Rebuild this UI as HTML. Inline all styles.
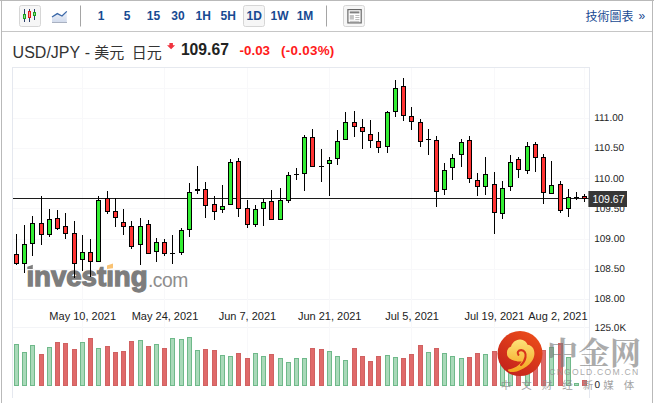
<!DOCTYPE html>
<html><head><meta charset="utf-8"><title>USD/JPY</title>
<style>html,body{margin:0;padding:0;background:#fff;}body{width:654px;height:403px;position:relative;overflow:hidden;font-family:"Liberation Sans",sans-serif;}</style></head>
<body>
<svg width="654" height="403" viewBox="0 0 654 403" style="position:absolute;left:0;top:0;font-family:'Liberation Sans',sans-serif">
<defs><linearGradient id="lg" x1="0" y1="0" x2="0" y2="1"><stop offset="0" stop-color="#eef2f9"/><stop offset="1" stop-color="#d3dced"/></linearGradient><linearGradient id="rg" x1="0.8" y1="0.1" x2="0.25" y2="0.95"><stop offset="0" stop-color="#e94a1a"/><stop offset="1" stop-color="#c4221c"/></linearGradient><linearGradient id="gg" x1="0.5" y1="0" x2="0.5" y2="1"><stop offset="0" stop-color="#fde27a"/><stop offset="1" stop-color="#f4a41c"/></linearGradient></defs>
<rect x="0" y="0" width="654" height="1" fill="#b9b9b9"/>
<rect x="1" y="0" width="1" height="403" fill="#b9b9b9"/>
<rect x="652" y="0" width="1" height="403" fill="#b9b9b9"/>
<rect x="2" y="31" width="650" height="1" fill="#c6c6c6"/>
<rect x="19.5" y="5.5" width="21" height="21" rx="2" fill="#f6f6f6" stroke="#d6d6d6"/>
<rect x="243.5" y="5.5" width="21" height="21" rx="2" fill="#f6f6f6" stroke="#d6d6d6"/>
<rect x="343.5" y="5.5" width="21" height="21" rx="2" fill="#f6f6f6" stroke="#d6d6d6"/>
<g shape-rendering="crispEdges">
<rect x="24" y="9" width="1" height="13" fill="#2b3f6b"/>
<rect x="23" y="14" width="3" height="5" fill="#1ea01e"/>
<rect x="29" y="9" width="1" height="13" fill="#2b3f6b"/>
<rect x="28" y="11" width="3" height="7" fill="#e01b1b"/>
<rect x="34" y="9" width="1" height="11" fill="#2b3f6b"/>
<rect x="33" y="12" width="3" height="4" fill="#1ea01e"/>
</g>
<rect x="24" y="15" width="1" height="3" fill="#8fe08f"/>
<rect x="29" y="12" width="1" height="5" fill="#ff9a9a"/>
<rect x="34" y="13" width="1" height="2" fill="#8fe08f"/>
<path d="M52 17 L57.3 13.6 L62 16 L66.8 11.4 L66.8 22 L52 22 Z" fill="url(#lg)"/>
<path d="M52 17 L57.3 13.6 L62 16 L66.8 11.4" fill="none" stroke="#3b68a8" stroke-width="1.3"/>
<rect x="52" y="22" width="15" height="1" fill="#a9b1c1"/>
<rect x="80" y="5.5" width="1" height="21" fill="#a5a5a5"/>
<rect x="326" y="5.5" width="1" height="21" fill="#a5a5a5"/>
<text x="101" y="20.3" font-size="12" font-weight="bold" fill="#174a92" text-anchor="middle">1</text>
<text x="127" y="20.3" font-size="12" font-weight="bold" fill="#174a92" text-anchor="middle">5</text>
<text x="153.5" y="20.3" font-size="12" font-weight="bold" fill="#174a92" text-anchor="middle">15</text>
<text x="178" y="20.3" font-size="12" font-weight="bold" fill="#174a92" text-anchor="middle">30</text>
<text x="203.2" y="20.3" font-size="12" font-weight="bold" fill="#174a92" text-anchor="middle">1H</text>
<text x="228.2" y="20.3" font-size="12" font-weight="bold" fill="#174a92" text-anchor="middle">5H</text>
<text x="254.2" y="20.3" font-size="12" font-weight="bold" fill="#174a92" text-anchor="middle">1D</text>
<text x="279.5" y="20.3" font-size="12" font-weight="bold" fill="#174a92" text-anchor="middle">1W</text>
<text x="305" y="20.3" font-size="12" font-weight="bold" fill="#174a92" text-anchor="middle">1M</text>
<rect x="347.9" y="9.6" width="13.3" height="13.3" fill="#fff" stroke="#686868" stroke-width="1.2"/>
<rect x="349.7" y="11.4" width="9.7" height="2" fill="#808080"/>
<rect x="349.7" y="15" width="4.2" height="4.6" fill="#c4c4c4"/>
<rect x="355.3" y="15.1" width="4.1" height="0.7" fill="#a0a0a0"/>
<rect x="355.3" y="17.2" width="4.1" height="0.7" fill="#a0a0a0"/>
<rect x="355.3" y="19.2" width="4.1" height="0.7" fill="#a0a0a0"/>
<rect x="349.7" y="20.9" width="9.7" height="0.7" fill="#a0a0a0"/>
<text x="585.5" y="21" font-size="12" fill="#174a92" style="font-family:'Liberation Sans','Noto Sans CJK TC',sans-serif">技術圖表</text>
<text x="638.4" y="19.9" font-size="12" fill="#174a92">»</text>
<text x="12.6" y="57.5" font-size="16" fill="#333">USD/JPY</text>
<text x="84.8" y="57.5" font-size="16" fill="#333">-</text>
<text x="94.2" y="57.5" font-size="15" fill="#333" style="font-family:'Liberation Sans','Noto Sans CJK TC',sans-serif">美元</text>
<text x="131.7" y="57.5" font-size="15" fill="#333" style="font-family:'Liberation Sans','Noto Sans CJK TC',sans-serif">日元</text>
<path d="M169.4 42.9h3.5v2.3h2.2L171.1 49.3 167 45.2h2.4z" fill="#f0323e"/>
<text x="180.9" y="54.8" font-size="15.7" font-weight="bold" fill="#222">109.67</text>
<text x="239.5" y="55" font-size="13.4" font-weight="bold" fill="#ff1a1a">-0.03</text>
<text x="281" y="55" font-size="13.4" font-weight="bold" fill="#ff1a1a" letter-spacing="0.28">(-0.03%)</text>
<g shape-rendering="crispEdges">
<rect x="13" y="88" width="576" height="1" fill="#f8f8fa"/>
<rect x="13" y="118" width="576" height="1" fill="#f8f8fa"/>
<rect x="13" y="148" width="576" height="1" fill="#f8f8fa"/>
<rect x="13" y="178" width="576" height="1" fill="#f8f8fa"/>
<rect x="13" y="208" width="576" height="1" fill="#f8f8fa"/>
<rect x="13" y="239" width="576" height="1" fill="#f8f8fa"/>
<rect x="13" y="269" width="576" height="1" fill="#f8f8fa"/>
<rect x="13" y="299" width="576" height="1" fill="#f3f4f7"/>
<rect x="13" y="327" width="576" height="1" fill="#f3f4f7"/>
<rect x="82" y="68" width="1" height="318" fill="#f8f8fa"/>
<rect x="164" y="68" width="1" height="318" fill="#f8f8fa"/>
<rect x="247" y="68" width="1" height="318" fill="#f8f8fa"/>
<rect x="329" y="68" width="1" height="318" fill="#f8f8fa"/>
<rect x="411" y="68" width="1" height="318" fill="#f8f8fa"/>
<rect x="494" y="68" width="1" height="318" fill="#f8f8fa"/>
<rect x="584" y="68" width="1" height="318" fill="#f9f9fb"/>
<rect x="12" y="67" width="578" height="1" fill="#e6e9ef"/>
<rect x="12" y="67" width="1" height="331" fill="#e5e8ef"/>
<rect x="589" y="67" width="1" height="331" fill="#e5e8ef"/>
</g>
<text x="26.4" y="286.1" font-size="27.6" font-weight="bold" fill="#7d7d7d" stroke="#7d7d7d" stroke-width="1.3" stroke-linejoin="miter" letter-spacing="0" >ınvestıng</text>
<text x="147.9" y="286.9" font-size="19.3" fill="#8e8e8e" letter-spacing="-0.45">.com</text>
<path d="M27.3 266.8 L32.8 264.8 L32.8 268.9 L27.3 268.9 Z" fill="#7d7d7d"/>
<path d="M107 265.5 L113 263.6 L113 268.3 L107 269 Z" fill="#f9c273"/>
<rect x="13" y="198" width="576" height="1" fill="#1c1c1c" shape-rendering="crispEdges"/>
<g shape-rendering="crispEdges">
<rect x="14" y="344" width="5" height="42" fill="#6fb98a"/>
<rect x="15" y="345" width="3" height="40" fill="#a9d9b9"/>
<rect x="22" y="352" width="5" height="34" fill="#6fb98a"/>
<rect x="23" y="353" width="3" height="32" fill="#a9d9b9"/>
<rect x="30" y="345" width="5" height="41" fill="#6fb98a"/>
<rect x="31" y="346" width="3" height="39" fill="#a9d9b9"/>
<rect x="39" y="354" width="5" height="32" fill="#d06262"/>
<rect x="40" y="355" width="3" height="30" fill="#e06a6a"/>
<rect x="47" y="347" width="5" height="39" fill="#6fb98a"/>
<rect x="48" y="348" width="3" height="37" fill="#a9d9b9"/>
<rect x="55" y="342" width="5" height="44" fill="#d06262"/>
<rect x="56" y="343" width="3" height="42" fill="#e06a6a"/>
<rect x="63" y="343" width="5" height="43" fill="#d06262"/>
<rect x="64" y="344" width="3" height="41" fill="#e06a6a"/>
<rect x="72" y="349" width="5" height="37" fill="#d06262"/>
<rect x="73" y="350" width="3" height="35" fill="#e06a6a"/>
<rect x="80" y="342" width="5" height="44" fill="#6fb98a"/>
<rect x="81" y="343" width="3" height="42" fill="#a9d9b9"/>
<rect x="88" y="338" width="5" height="48" fill="#d06262"/>
<rect x="89" y="339" width="3" height="46" fill="#e06a6a"/>
<rect x="96" y="348" width="5" height="38" fill="#6fb98a"/>
<rect x="97" y="349" width="3" height="36" fill="#a9d9b9"/>
<rect x="105" y="346" width="5" height="40" fill="#d06262"/>
<rect x="106" y="347" width="3" height="38" fill="#e06a6a"/>
<rect x="113" y="352" width="5" height="34" fill="#d06262"/>
<rect x="114" y="353" width="3" height="32" fill="#e06a6a"/>
<rect x="121" y="351" width="5" height="35" fill="#d06262"/>
<rect x="122" y="352" width="3" height="33" fill="#e06a6a"/>
<rect x="129" y="341" width="5" height="45" fill="#d06262"/>
<rect x="130" y="342" width="3" height="43" fill="#e06a6a"/>
<rect x="138" y="340" width="5" height="46" fill="#6fb98a"/>
<rect x="139" y="341" width="3" height="44" fill="#a9d9b9"/>
<rect x="146" y="346" width="5" height="40" fill="#d06262"/>
<rect x="147" y="347" width="3" height="38" fill="#e06a6a"/>
<rect x="154" y="344" width="5" height="42" fill="#6fb98a"/>
<rect x="155" y="345" width="3" height="40" fill="#a9d9b9"/>
<rect x="162" y="348" width="5" height="38" fill="#d06262"/>
<rect x="163" y="349" width="3" height="36" fill="#e06a6a"/>
<rect x="170" y="338" width="5" height="48" fill="#6fb98a"/>
<rect x="171" y="339" width="3" height="46" fill="#a9d9b9"/>
<rect x="179" y="339" width="5" height="47" fill="#6fb98a"/>
<rect x="180" y="340" width="3" height="45" fill="#a9d9b9"/>
<rect x="187" y="337" width="5" height="49" fill="#6fb98a"/>
<rect x="188" y="338" width="3" height="47" fill="#a9d9b9"/>
<rect x="195" y="350" width="5" height="36" fill="#6fb98a"/>
<rect x="196" y="351" width="3" height="34" fill="#a9d9b9"/>
<rect x="203" y="349" width="5" height="37" fill="#d06262"/>
<rect x="204" y="350" width="3" height="35" fill="#e06a6a"/>
<rect x="212" y="350" width="5" height="36" fill="#d06262"/>
<rect x="213" y="351" width="3" height="34" fill="#e06a6a"/>
<rect x="220" y="355" width="5" height="31" fill="#6fb98a"/>
<rect x="221" y="356" width="3" height="29" fill="#a9d9b9"/>
<rect x="228" y="356" width="5" height="30" fill="#6fb98a"/>
<rect x="229" y="357" width="3" height="28" fill="#a9d9b9"/>
<rect x="236" y="353" width="5" height="33" fill="#d06262"/>
<rect x="237" y="354" width="3" height="31" fill="#e06a6a"/>
<rect x="245" y="358" width="5" height="28" fill="#d06262"/>
<rect x="246" y="359" width="3" height="26" fill="#e06a6a"/>
<rect x="253" y="353" width="5" height="33" fill="#6fb98a"/>
<rect x="254" y="354" width="3" height="31" fill="#a9d9b9"/>
<rect x="261" y="356" width="5" height="30" fill="#6fb98a"/>
<rect x="262" y="357" width="3" height="28" fill="#a9d9b9"/>
<rect x="269" y="354" width="5" height="32" fill="#d06262"/>
<rect x="270" y="355" width="3" height="30" fill="#e06a6a"/>
<rect x="278" y="358" width="5" height="28" fill="#6fb98a"/>
<rect x="279" y="359" width="3" height="26" fill="#a9d9b9"/>
<rect x="286" y="362" width="5" height="24" fill="#6fb98a"/>
<rect x="287" y="363" width="3" height="22" fill="#a9d9b9"/>
<rect x="294" y="358" width="5" height="28" fill="#6fb98a"/>
<rect x="295" y="359" width="3" height="26" fill="#a9d9b9"/>
<rect x="302" y="358" width="5" height="28" fill="#6fb98a"/>
<rect x="303" y="359" width="3" height="26" fill="#a9d9b9"/>
<rect x="310" y="348" width="5" height="38" fill="#d06262"/>
<rect x="311" y="349" width="3" height="36" fill="#e06a6a"/>
<rect x="319" y="349" width="5" height="37" fill="#d06262"/>
<rect x="320" y="350" width="3" height="35" fill="#e06a6a"/>
<rect x="327" y="351" width="5" height="35" fill="#6fb98a"/>
<rect x="328" y="352" width="3" height="33" fill="#a9d9b9"/>
<rect x="335" y="356" width="5" height="30" fill="#6fb98a"/>
<rect x="336" y="357" width="3" height="28" fill="#a9d9b9"/>
<rect x="343" y="360" width="5" height="26" fill="#6fb98a"/>
<rect x="344" y="361" width="3" height="24" fill="#a9d9b9"/>
<rect x="352" y="348" width="5" height="38" fill="#d06262"/>
<rect x="353" y="349" width="3" height="36" fill="#e06a6a"/>
<rect x="360" y="356" width="5" height="30" fill="#d06262"/>
<rect x="361" y="357" width="3" height="28" fill="#e06a6a"/>
<rect x="368" y="361" width="5" height="25" fill="#d06262"/>
<rect x="369" y="362" width="3" height="23" fill="#e06a6a"/>
<rect x="376" y="356" width="5" height="30" fill="#d06262"/>
<rect x="377" y="357" width="3" height="28" fill="#e06a6a"/>
<rect x="385" y="355" width="5" height="31" fill="#6fb98a"/>
<rect x="386" y="356" width="3" height="29" fill="#a9d9b9"/>
<rect x="393" y="357" width="5" height="29" fill="#6fb98a"/>
<rect x="394" y="358" width="3" height="27" fill="#a9d9b9"/>
<rect x="401" y="358" width="5" height="28" fill="#d06262"/>
<rect x="402" y="359" width="3" height="26" fill="#e06a6a"/>
<rect x="409" y="354" width="5" height="32" fill="#d06262"/>
<rect x="410" y="355" width="3" height="30" fill="#e06a6a"/>
<rect x="418" y="345" width="5" height="41" fill="#d06262"/>
<rect x="419" y="346" width="3" height="39" fill="#e06a6a"/>
<rect x="426" y="352" width="5" height="34" fill="#6fb98a"/>
<rect x="427" y="353" width="3" height="32" fill="#a9d9b9"/>
<rect x="434" y="348" width="5" height="38" fill="#d06262"/>
<rect x="435" y="349" width="3" height="36" fill="#e06a6a"/>
<rect x="442" y="353" width="5" height="33" fill="#6fb98a"/>
<rect x="443" y="354" width="3" height="31" fill="#a9d9b9"/>
<rect x="450" y="356" width="5" height="30" fill="#6fb98a"/>
<rect x="451" y="357" width="3" height="28" fill="#a9d9b9"/>
<rect x="459" y="358" width="5" height="28" fill="#6fb98a"/>
<rect x="460" y="359" width="3" height="26" fill="#a9d9b9"/>
<rect x="467" y="357" width="5" height="29" fill="#d06262"/>
<rect x="468" y="358" width="3" height="27" fill="#e06a6a"/>
<rect x="475" y="353" width="5" height="33" fill="#d06262"/>
<rect x="476" y="354" width="3" height="31" fill="#e06a6a"/>
<rect x="483" y="354" width="5" height="32" fill="#6fb98a"/>
<rect x="484" y="355" width="3" height="30" fill="#a9d9b9"/>
<rect x="492" y="351" width="5" height="35" fill="#d06262"/>
<rect x="493" y="352" width="3" height="33" fill="#e06a6a"/>
<rect x="500" y="352" width="5" height="34" fill="#6fb98a"/>
<rect x="501" y="353" width="3" height="32" fill="#a9d9b9"/>
<rect x="508" y="350" width="5" height="36" fill="#6fb98a"/>
<rect x="509" y="351" width="3" height="34" fill="#a9d9b9"/>
<rect x="516" y="352" width="5" height="34" fill="#d06262"/>
<rect x="517" y="353" width="3" height="32" fill="#e06a6a"/>
<rect x="525" y="354" width="5" height="32" fill="#6fb98a"/>
<rect x="526" y="355" width="3" height="30" fill="#a9d9b9"/>
<rect x="533" y="351" width="5" height="35" fill="#d06262"/>
<rect x="534" y="352" width="3" height="33" fill="#e06a6a"/>
<rect x="541" y="350" width="5" height="36" fill="#d06262"/>
<rect x="542" y="351" width="3" height="34" fill="#e06a6a"/>
<rect x="549" y="347" width="5" height="39" fill="#6fb98a"/>
<rect x="550" y="348" width="3" height="37" fill="#a9d9b9"/>
<rect x="558" y="343" width="5" height="43" fill="#d06262"/>
<rect x="559" y="344" width="3" height="41" fill="#e06a6a"/>
<rect x="566" y="357" width="5" height="29" fill="#6fb98a"/>
<rect x="567" y="358" width="3" height="27" fill="#a9d9b9"/>
<rect x="574" y="383" width="5" height="3" fill="#6fb98a"/>
<rect x="575" y="384" width="3" height="1" fill="#a9d9b9"/>
<rect x="582" y="380" width="5" height="6" fill="#d06262"/>
<rect x="583" y="381" width="3" height="4" fill="#e06a6a"/>
</g>
<g shape-rendering="crispEdges">
<rect x="16" y="234" width="1" height="31" fill="#000"/>
<rect x="14" y="254" width="5" height="10" fill="#000"/>
<rect x="15" y="255" width="3" height="8" fill="#ff3333"/>
<rect x="24" y="225" width="1" height="48" fill="#000"/>
<rect x="22" y="244" width="5" height="20" fill="#000"/>
<rect x="23" y="245" width="3" height="18" fill="#33ee33"/>
<rect x="32" y="216" width="1" height="40" fill="#000"/>
<rect x="30" y="223" width="5" height="21" fill="#000"/>
<rect x="31" y="224" width="3" height="19" fill="#33ee33"/>
<rect x="41" y="196" width="1" height="49" fill="#000"/>
<rect x="39" y="223" width="5" height="12" fill="#000"/>
<rect x="40" y="224" width="3" height="10" fill="#ff3333"/>
<rect x="49" y="209" width="1" height="28" fill="#000"/>
<rect x="47" y="219" width="5" height="16" fill="#000"/>
<rect x="48" y="220" width="3" height="14" fill="#33ee33"/>
<rect x="57" y="210" width="1" height="20" fill="#000"/>
<rect x="55" y="218" width="5" height="11" fill="#000"/>
<rect x="56" y="219" width="3" height="9" fill="#ff3333"/>
<rect x="65" y="213" width="1" height="26" fill="#000"/>
<rect x="63" y="226" width="5" height="8" fill="#000"/>
<rect x="64" y="227" width="3" height="6" fill="#ff3333"/>
<rect x="74" y="221" width="1" height="57" fill="#000"/>
<rect x="72" y="233" width="5" height="31" fill="#000"/>
<rect x="73" y="234" width="3" height="29" fill="#ff3333"/>
<rect x="82" y="235" width="1" height="36" fill="#000"/>
<rect x="80" y="252" width="5" height="8" fill="#000"/>
<rect x="81" y="253" width="3" height="6" fill="#33ee33"/>
<rect x="90" y="239" width="1" height="38" fill="#000"/>
<rect x="88" y="252" width="5" height="10" fill="#000"/>
<rect x="89" y="253" width="3" height="8" fill="#ff3333"/>
<rect x="98" y="196" width="1" height="66" fill="#000"/>
<rect x="96" y="200" width="5" height="62" fill="#000"/>
<rect x="97" y="201" width="3" height="60" fill="#33ee33"/>
<rect x="107" y="191" width="1" height="23" fill="#000"/>
<rect x="105" y="198" width="5" height="14" fill="#000"/>
<rect x="106" y="199" width="3" height="12" fill="#ff3333"/>
<rect x="115" y="198" width="1" height="29" fill="#000"/>
<rect x="113" y="211" width="5" height="7" fill="#000"/>
<rect x="114" y="212" width="3" height="5" fill="#ff3333"/>
<rect x="123" y="209" width="1" height="26" fill="#000"/>
<rect x="121" y="222" width="5" height="5" fill="#000"/>
<rect x="122" y="223" width="3" height="3" fill="#ff3333"/>
<rect x="131" y="221" width="1" height="28" fill="#000"/>
<rect x="129" y="226" width="5" height="21" fill="#000"/>
<rect x="130" y="227" width="3" height="19" fill="#ff3333"/>
<rect x="140" y="218" width="1" height="47" fill="#000"/>
<rect x="138" y="226" width="5" height="19" fill="#000"/>
<rect x="139" y="227" width="3" height="17" fill="#33ee33"/>
<rect x="148" y="220" width="1" height="34" fill="#000"/>
<rect x="146" y="224" width="5" height="30" fill="#000"/>
<rect x="147" y="225" width="3" height="28" fill="#ff3333"/>
<rect x="156" y="238" width="1" height="24" fill="#000"/>
<rect x="154" y="242" width="5" height="10" fill="#000"/>
<rect x="155" y="243" width="3" height="8" fill="#33ee33"/>
<rect x="164" y="239" width="1" height="17" fill="#000"/>
<rect x="162" y="242" width="5" height="12" fill="#000"/>
<rect x="163" y="243" width="3" height="10" fill="#ff3333"/>
<rect x="172" y="235" width="1" height="29" fill="#000"/>
<rect x="170" y="253" width="5" height="1" fill="#000"/>
<rect x="181" y="228" width="1" height="27" fill="#000"/>
<rect x="179" y="230" width="5" height="23" fill="#000"/>
<rect x="180" y="231" width="3" height="21" fill="#33ee33"/>
<rect x="189" y="183" width="1" height="54" fill="#000"/>
<rect x="187" y="192" width="5" height="38" fill="#000"/>
<rect x="188" y="193" width="3" height="36" fill="#33ee33"/>
<rect x="197" y="166" width="1" height="28" fill="#000"/>
<rect x="195" y="189" width="5" height="2" fill="#000"/>
<rect x="205" y="182" width="1" height="36" fill="#000"/>
<rect x="203" y="189" width="5" height="17" fill="#000"/>
<rect x="204" y="190" width="3" height="15" fill="#ff3333"/>
<rect x="214" y="196" width="1" height="24" fill="#000"/>
<rect x="212" y="204" width="5" height="8" fill="#000"/>
<rect x="213" y="205" width="3" height="6" fill="#ff3333"/>
<rect x="222" y="185" width="1" height="28" fill="#000"/>
<rect x="220" y="206" width="5" height="4" fill="#000"/>
<rect x="221" y="207" width="3" height="2" fill="#33ee33"/>
<rect x="230" y="159" width="1" height="46" fill="#000"/>
<rect x="228" y="162" width="5" height="43" fill="#000"/>
<rect x="229" y="163" width="3" height="41" fill="#33ee33"/>
<rect x="238" y="158" width="1" height="59" fill="#000"/>
<rect x="236" y="161" width="5" height="48" fill="#000"/>
<rect x="237" y="162" width="3" height="46" fill="#ff3333"/>
<rect x="247" y="200" width="1" height="28" fill="#000"/>
<rect x="245" y="208" width="5" height="17" fill="#000"/>
<rect x="246" y="209" width="3" height="15" fill="#ff3333"/>
<rect x="255" y="205" width="1" height="22" fill="#000"/>
<rect x="253" y="209" width="5" height="16" fill="#000"/>
<rect x="254" y="210" width="3" height="14" fill="#33ee33"/>
<rect x="263" y="199" width="1" height="27" fill="#000"/>
<rect x="261" y="202" width="5" height="7" fill="#000"/>
<rect x="262" y="203" width="3" height="5" fill="#33ee33"/>
<rect x="271" y="190" width="1" height="30" fill="#000"/>
<rect x="269" y="201" width="5" height="19" fill="#000"/>
<rect x="270" y="202" width="3" height="17" fill="#ff3333"/>
<rect x="280" y="188" width="1" height="32" fill="#000"/>
<rect x="278" y="200" width="5" height="20" fill="#000"/>
<rect x="279" y="201" width="3" height="18" fill="#33ee33"/>
<rect x="288" y="172" width="1" height="31" fill="#000"/>
<rect x="286" y="175" width="5" height="26" fill="#000"/>
<rect x="287" y="176" width="3" height="24" fill="#33ee33"/>
<rect x="296" y="168" width="1" height="12" fill="#000"/>
<rect x="294" y="174" width="5" height="1" fill="#000"/>
<rect x="304" y="135" width="1" height="56" fill="#000"/>
<rect x="302" y="137" width="5" height="37" fill="#000"/>
<rect x="303" y="138" width="3" height="35" fill="#33ee33"/>
<rect x="312" y="129" width="1" height="38" fill="#000"/>
<rect x="310" y="137" width="5" height="30" fill="#000"/>
<rect x="311" y="138" width="3" height="28" fill="#ff3333"/>
<rect x="321" y="149" width="1" height="33" fill="#000"/>
<rect x="319" y="166" width="5" height="1" fill="#000"/>
<rect x="329" y="157" width="1" height="39" fill="#000"/>
<rect x="327" y="160" width="5" height="4" fill="#000"/>
<rect x="328" y="161" width="3" height="2" fill="#33ee33"/>
<rect x="337" y="130" width="1" height="35" fill="#000"/>
<rect x="335" y="141" width="5" height="18" fill="#000"/>
<rect x="336" y="142" width="3" height="16" fill="#33ee33"/>
<rect x="345" y="112" width="1" height="28" fill="#000"/>
<rect x="343" y="122" width="5" height="18" fill="#000"/>
<rect x="344" y="123" width="3" height="16" fill="#33ee33"/>
<rect x="354" y="111" width="1" height="26" fill="#000"/>
<rect x="352" y="122" width="5" height="5" fill="#000"/>
<rect x="353" y="123" width="3" height="3" fill="#ff3333"/>
<rect x="362" y="119" width="1" height="30" fill="#000"/>
<rect x="360" y="127" width="5" height="5" fill="#000"/>
<rect x="361" y="128" width="3" height="3" fill="#ff3333"/>
<rect x="370" y="120" width="1" height="28" fill="#000"/>
<rect x="368" y="134" width="5" height="7" fill="#000"/>
<rect x="369" y="135" width="3" height="5" fill="#ff3333"/>
<rect x="378" y="132" width="1" height="21" fill="#000"/>
<rect x="376" y="141" width="5" height="7" fill="#000"/>
<rect x="377" y="142" width="3" height="5" fill="#ff3333"/>
<rect x="387" y="111" width="1" height="42" fill="#000"/>
<rect x="385" y="112" width="5" height="35" fill="#000"/>
<rect x="386" y="113" width="3" height="33" fill="#33ee33"/>
<rect x="395" y="80" width="1" height="37" fill="#000"/>
<rect x="393" y="88" width="5" height="24" fill="#000"/>
<rect x="394" y="89" width="3" height="22" fill="#33ee33"/>
<rect x="403" y="78" width="1" height="43" fill="#000"/>
<rect x="401" y="86" width="5" height="30" fill="#000"/>
<rect x="402" y="87" width="3" height="28" fill="#ff3333"/>
<rect x="411" y="107" width="1" height="23" fill="#000"/>
<rect x="409" y="116" width="5" height="6" fill="#000"/>
<rect x="410" y="117" width="3" height="4" fill="#ff3333"/>
<rect x="420" y="119" width="1" height="28" fill="#000"/>
<rect x="418" y="122" width="5" height="20" fill="#000"/>
<rect x="419" y="123" width="3" height="18" fill="#ff3333"/>
<rect x="428" y="129" width="1" height="26" fill="#000"/>
<rect x="426" y="139" width="5" height="1" fill="#000"/>
<rect x="436" y="136" width="1" height="71" fill="#000"/>
<rect x="434" y="140" width="5" height="52" fill="#000"/>
<rect x="435" y="141" width="3" height="50" fill="#ff3333"/>
<rect x="444" y="163" width="1" height="32" fill="#000"/>
<rect x="442" y="170" width="5" height="20" fill="#000"/>
<rect x="443" y="171" width="3" height="18" fill="#33ee33"/>
<rect x="452" y="154" width="1" height="26" fill="#000"/>
<rect x="450" y="158" width="5" height="10" fill="#000"/>
<rect x="451" y="159" width="3" height="8" fill="#33ee33"/>
<rect x="461" y="139" width="1" height="28" fill="#000"/>
<rect x="459" y="142" width="5" height="13" fill="#000"/>
<rect x="460" y="143" width="3" height="11" fill="#33ee33"/>
<rect x="469" y="136" width="1" height="47" fill="#000"/>
<rect x="467" y="140" width="5" height="39" fill="#000"/>
<rect x="468" y="141" width="3" height="37" fill="#ff3333"/>
<rect x="477" y="173" width="1" height="23" fill="#000"/>
<rect x="475" y="180" width="5" height="7" fill="#000"/>
<rect x="476" y="181" width="3" height="5" fill="#ff3333"/>
<rect x="485" y="157" width="1" height="38" fill="#000"/>
<rect x="483" y="174" width="5" height="13" fill="#000"/>
<rect x="484" y="175" width="3" height="11" fill="#33ee33"/>
<rect x="494" y="172" width="1" height="62" fill="#000"/>
<rect x="492" y="184" width="5" height="29" fill="#000"/>
<rect x="493" y="185" width="3" height="27" fill="#ff3333"/>
<rect x="502" y="181" width="1" height="38" fill="#000"/>
<rect x="500" y="188" width="5" height="26" fill="#000"/>
<rect x="501" y="189" width="3" height="24" fill="#33ee33"/>
<rect x="510" y="155" width="1" height="36" fill="#000"/>
<rect x="508" y="162" width="5" height="25" fill="#000"/>
<rect x="509" y="163" width="3" height="23" fill="#33ee33"/>
<rect x="518" y="157" width="1" height="21" fill="#000"/>
<rect x="516" y="159" width="5" height="11" fill="#000"/>
<rect x="517" y="160" width="3" height="9" fill="#ff3333"/>
<rect x="527" y="142" width="1" height="32" fill="#000"/>
<rect x="525" y="146" width="5" height="25" fill="#000"/>
<rect x="526" y="147" width="3" height="23" fill="#33ee33"/>
<rect x="535" y="142" width="1" height="30" fill="#000"/>
<rect x="533" y="144" width="5" height="14" fill="#000"/>
<rect x="534" y="145" width="3" height="12" fill="#ff3333"/>
<rect x="543" y="154" width="1" height="50" fill="#000"/>
<rect x="541" y="157" width="5" height="36" fill="#000"/>
<rect x="542" y="158" width="3" height="34" fill="#ff3333"/>
<rect x="551" y="161" width="1" height="33" fill="#000"/>
<rect x="549" y="185" width="5" height="9" fill="#000"/>
<rect x="550" y="186" width="3" height="7" fill="#33ee33"/>
<rect x="560" y="181" width="1" height="32" fill="#000"/>
<rect x="558" y="184" width="5" height="27" fill="#000"/>
<rect x="559" y="185" width="3" height="25" fill="#ff3333"/>
<rect x="568" y="189" width="1" height="28" fill="#000"/>
<rect x="566" y="197" width="5" height="12" fill="#000"/>
<rect x="567" y="198" width="3" height="10" fill="#33ee33"/>
<rect x="576" y="192" width="1" height="8" fill="#000"/>
<rect x="574" y="197" width="5" height="1" fill="#000"/>
<rect x="584" y="194" width="1" height="8" fill="#000"/>
<rect x="582" y="196" width="5" height="3" fill="#000"/>
<rect x="583" y="197" width="3" height="1" fill="#ff3333"/>
</g>
<text x="594.2" y="121" font-size="10" fill="#1e1e1e" text-rendering="geometricPrecision">111.00</text>
<text x="594.2" y="151" font-size="10" fill="#1e1e1e" text-rendering="geometricPrecision">110.50</text>
<text x="594.2" y="182" font-size="10" fill="#1e1e1e" text-rendering="geometricPrecision">110.00</text>
<text x="594.2" y="212" font-size="10" fill="#1e1e1e" text-rendering="geometricPrecision">109.50</text>
<text x="594.2" y="242" font-size="10" fill="#1e1e1e" text-rendering="geometricPrecision">109.00</text>
<text x="594.2" y="272" font-size="10" fill="#1e1e1e" text-rendering="geometricPrecision">108.50</text>
<text x="594.2" y="302" font-size="10" fill="#1e1e1e" text-rendering="geometricPrecision">108.00</text>
<rect x="588.4" y="191" width="38.6" height="16" fill="#363636"/>
<text x="592.4" y="202.6" font-size="10.5" fill="#fff">109.67</text>
<text x="594.4" y="331.1" font-size="10" fill="#1e1e1e" text-rendering="geometricPrecision">125.0K</text>
<text x="594.6" y="387.8" font-size="10" fill="#1e1e1e" text-rendering="geometricPrecision">0</text>
<text x="82.7" y="320.2" font-size="11" fill="#222" text-anchor="middle">May 10, 2021</text>
<text x="165.0" y="320.2" font-size="11" fill="#222" text-anchor="middle">May 24, 2021</text>
<text x="247.4" y="320.2" font-size="11" fill="#222" text-anchor="middle">Jun 7, 2021</text>
<text x="329.7" y="320.2" font-size="11" fill="#222" text-anchor="middle">Jun 21, 2021</text>
<text x="412.1" y="320.2" font-size="11" fill="#222" text-anchor="middle">Jul 5, 2021</text>
<text x="494.4" y="320.2" font-size="11" fill="#222" text-anchor="middle">Jul 19, 2021</text>
<text x="587.6" y="320.2" font-size="11" fill="#222" text-anchor="end">Aug 2, 2021</text>
<circle cx="520" cy="353.6" r="22.5" fill="url(#rg)"/>
<path d="M507 353.4 C506.8 351.6 507.2 350.2 508 349.1 C508.6 347.8 509.8 347 511.1 346.6 C511.2 345.2 511.9 343.9 513 342.9 C513.8 341.7 515.2 340.7 516.7 340.2 C518.2 339.5 520 339.4 521.7 339.8 C523.2 340 524.5 340.7 525.4 341.6 C526.4 342.4 527.1 343.5 527.5 344.7 C529.2 344.8 530.6 345.6 531.6 346.6 C533 347.8 533.8 349.3 534.1 351 C534.5 352.6 534.5 354.3 534.1 355.9 C533.7 357.9 532.8 359.8 531.6 361.5 C530.3 363.4 528.6 365.1 526.6 366.5 C524.6 368 522.3 369.3 519.8 370.2 C517.8 371.1 515.7 371.8 513.6 372 C511.8 372.3 510 372 508.6 371.2 C507.9 370.8 507.7 370 508 369.6 C510 369.4 511.9 368.8 513.6 368 C515.8 367.2 517.7 366 519.2 364.6 C520.3 363.6 521.1 362.5 521.7 361.2 C519.8 361.6 517.9 361.5 516.1 360.9 C514 360.7 512.1 360.1 510.5 359 C509.1 358.3 508 357.2 507.4 355.9 C507.1 355.1 507 354.2 507 353.4 Z" fill="url(#gg)"/>
<path d="M518.4 354.8 C516.6 352.8 518.2 350.1 521.2 350.1 C524.6 350.1 526.1 353.4 525.5 357 C525 360.3 523.4 362.8 521 365" fill="none" stroke="#d8341b" stroke-width="2.1" stroke-linecap="round"/>
<text x="547" y="364" font-size="31" font-weight="bold" fill="#787878" opacity="0.62" letter-spacing="0.5" style="font-family:'Liberation Serif','Noto Serif CJK SC',serif">中金网</text>
<text x="549.2" y="374.8" font-size="8.6" fill="#8f8f8f" opacity="0.75" letter-spacing="1.25">CNGOLD.COM.CN</text>
<text x="500.8" y="389.3" font-size="10.5" fill="#8a8a8a" opacity="0.78" letter-spacing="10" style="font-family:'Liberation Sans','Noto Sans CJK SC',sans-serif">中文财经新媒体</text>
</svg>
</body></html>
